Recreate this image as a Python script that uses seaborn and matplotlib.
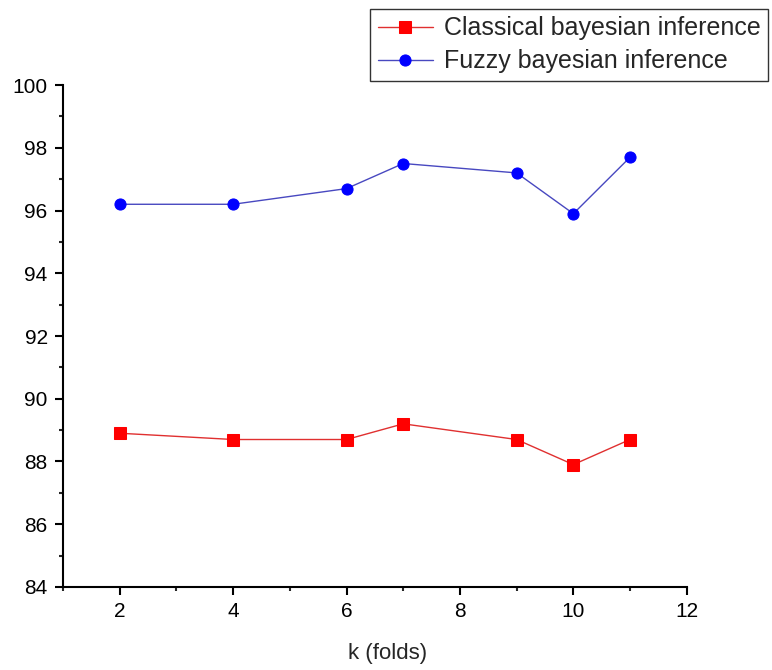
import numpy as np
import pandas as pd
import seaborn as sns
import matplotlib.pyplot as plt
from matplotlib.ticker import MultipleLocator

k_folds = [2, 4, 6, 7, 9, 10, 11]
classical = [88.9, 88.7, 88.7, 89.2, 88.7, 87.9, 88.7]
fuzzy = [96.2, 96.2, 96.7, 97.5, 97.2, 95.9, 97.7]

sns.set_style("ticks")
plt.rcParams['font.family'] = ['Liberation Sans', 'DejaVu Sans']

fig = plt.figure(figsize=(7.72, 6.70), dpi=100)
ax = fig.add_axes([0.0816, 0.124, 0.808, 0.749])

sns.lineplot(x=k_folds, y=classical, ax=ax, color='#e03030', linewidth=1,
             marker='s', markersize=8, markerfacecolor='red', markeredgecolor='red',
             label='Classical bayesian inference')
sns.lineplot(x=k_folds, y=fuzzy, ax=ax, color='#4848c0', linewidth=1,
             marker='o', markersize=8, markerfacecolor='blue', markeredgecolor='blue',
             label='Fuzzy bayesian inference')

ax.set_xlim(1, 12)
ax.set_ylim(84, 100)
ax.xaxis.set_major_locator(MultipleLocator(2))
ax.xaxis.set_minor_locator(MultipleLocator(1))
ax.yaxis.set_major_locator(MultipleLocator(2))
ax.yaxis.set_minor_locator(MultipleLocator(1))
ax.tick_params(which='major', length=6, width=1.5, labelsize=15, colors='black', pad=5)
ax.tick_params(which='minor', length=3, width=1.5)
for s in ['top', 'right']:
    ax.spines[s].set_visible(False)
for s in ['left', 'bottom']:
    ax.spines[s].set_linewidth(1.5)
    ax.spines[s].set_color('black')

ax.set_xlabel('k (folds)', fontsize=16)
ax.xaxis.set_label_coords(0.52, -0.112)
ax.set_ylabel('')

leg = ax.legend(loc='upper right', bbox_to_anchor=(768 / 772, 1 - 9 / 670),
                bbox_transform=fig.transFigure, fontsize=18, frameon=True,
                fancybox=False, handlelength=2.2, handletextpad=0.45,
                borderpad=0.3, labelspacing=0.35, borderaxespad=0)
leg.get_frame().set_edgecolor('black')
leg.get_frame().set_linewidth(1)

fig.savefig('out.png', dpi=100)
